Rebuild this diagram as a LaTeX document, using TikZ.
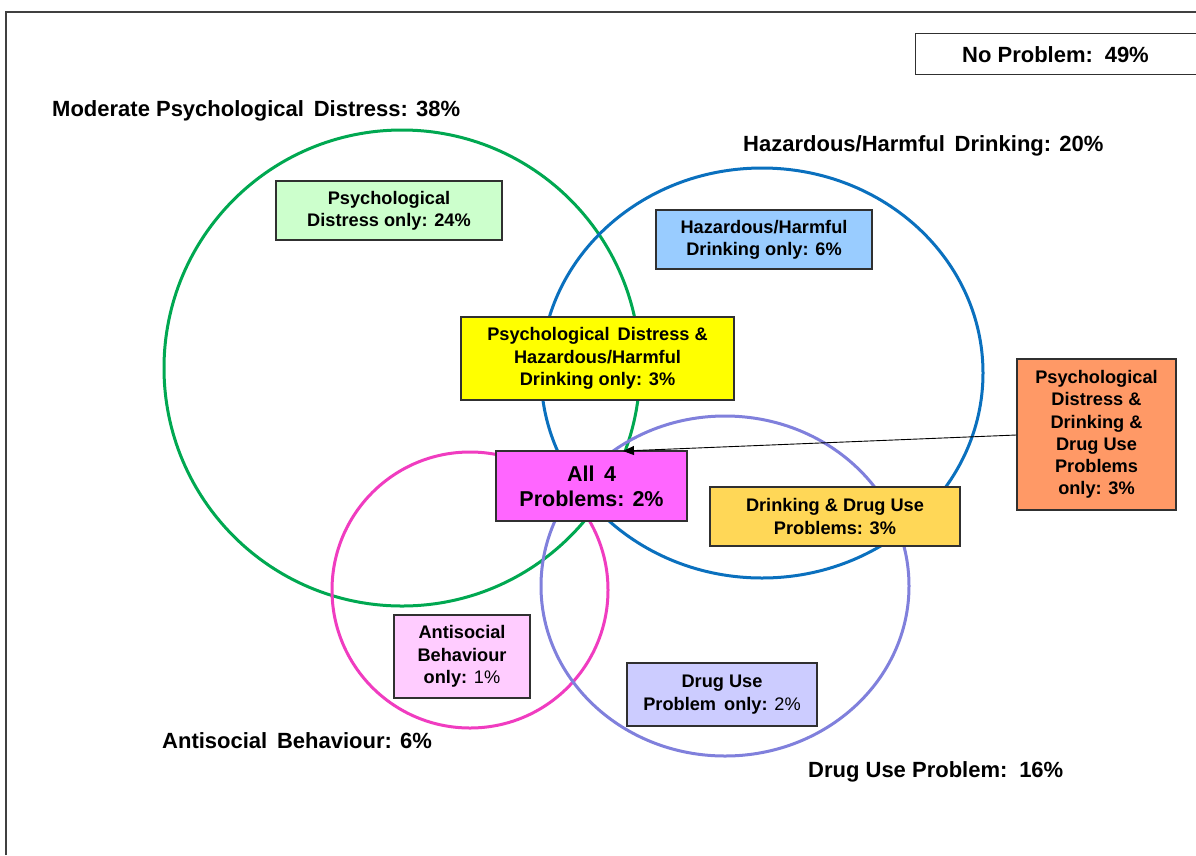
\documentclass[tikz,border=0pt]{standalone}
\usepackage{fontspec}
\setmainfont{Liberation Sans}
\usetikzlibrary{arrows.meta}
\definecolor{cgreen}{HTML}{00A851}
\definecolor{cblue}{HTML}{0A70BE}
\definecolor{cpink}{HTML}{F03CC0}
\definecolor{cpurple}{HTML}{8080DC}
\definecolor{fgreen}{HTML}{CCFFCC}
\definecolor{fblue}{HTML}{99CCFF}
\definecolor{fyellow}{HTML}{FFFF00}
\definecolor{fmagenta}{HTML}{FF66FF}
\definecolor{fgold}{HTML}{FFD757}
\definecolor{forange}{HTML}{FF9966}
\definecolor{fpink}{HTML}{FFCCFF}
\definecolor{fpurple}{HTML}{CCCCFF}
\definecolor{edge}{HTML}{303030}
\tikzset{
  ring/.style={line width=3pt},
  bigtext/.style={font=\fontsize{22}{25}\selectfont\bfseries, inner sep=0pt},
  infobox/.style={draw=edge, line width=1.2pt, align=center, inner sep=0pt,
    font=\fontsize{18.2}{22.3}\selectfont\bfseries},
}
\begin{document}
\begin{tikzpicture}[x=1pt,y=-1pt]
\useasboundingbox (0,0) rectangle (1196,855);
\fill[white] (0,0) rectangle (1196,855);
% frame
\draw[line width=1.5pt, black!75] (6,855) -- (6,12) -- (1200,12);
% circles
\draw[ring, cgreen] (402,368) circle [radius=238];
\draw[ring, cblue] (762,373) ellipse [x radius=221, y radius=205];
\draw[ring, cpink] (470,590) circle [radius=138];
\draw[ring, cpurple] (725,586) ellipse [x radius=184, y radius=170];
% big labels
\node[bigtext, anchor=west] (lpd) at (52,111) {Moderate Psychological\, Distress: 38\%};
\node[bigtext, anchor=west] (lhd) at (743,146) {Hazardous/Harmful\, Drinking: 20\%};
\node[bigtext, anchor=west] (lab) at (162,741) {Antisocial\, Behaviour: 6\%};
\node[bigtext, anchor=west] (ldu) at (808,772) {Drug Use Problem:\, 16\%};
% no problem
\node[draw=edge, line width=1.2pt, fill=white, minimum width=290, minimum height=41, inner sep=0pt, anchor=north west] (np) at (915,33) {};
\node[bigtext] (npt) at (1055.5,54.5) {No Problem:\, 49\%};
% boxes
\node[infobox, fill=fgreen, minimum width=226, minimum height=59] (bpd) at (389,210.5)
  {Psychological\\Distress only: 24\%};
\node[infobox, fill=fblue, minimum width=216, minimum height=59] (bhd) at (764,239.5)
  {Hazardous/Harmful\\Drinking only: 6\%};
\node[infobox, fill=fyellow, minimum width=273, minimum height=83] (bpdhd) at (597.5,358.5)
  {Psychological\, Distress \&\\Hazardous/Harmful\\Drinking only: 3\%};
\node[infobox, fill=fmagenta, minimum width=191, minimum height=70, font=\fontsize{21.5}{25}\selectfont\bfseries] (ball) at (591.5,486)
  {All\, 4\\Problems: 2\%};
\node[infobox, fill=fgold, minimum width=250, minimum height=59] (bdd) at (835,516.5)
  {Drinking \& Drug Use\\Problems: 3\%};
\node[infobox, fill=forange, minimum width=159, minimum height=151] (bor) at (1096.5,434.5)
  {Psychological\\Distress \&\\Drinking \&\\Drug Use\\Problems\\only: 3\%};
\node[infobox, fill=fpink, minimum width=136, minimum height=83] (bab) at (462,656.5)
  {Antisocial\\Behaviour\\only: {\mdseries 1\%}};
\node[infobox, fill=fpurple, minimum width=190, minimum height=63] (bdu) at (722,694.5)
  {Drug Use\\Problem\, only: {\mdseries 2\%}};
% arrow
\coordinate (tip) at (623,451);
\draw[line width=0.9pt, -{Triangle[length=11pt,width=9pt]}] ([yshift=-0.5pt]bor.west) -- (tip);
\end{tikzpicture}
\end{document}
